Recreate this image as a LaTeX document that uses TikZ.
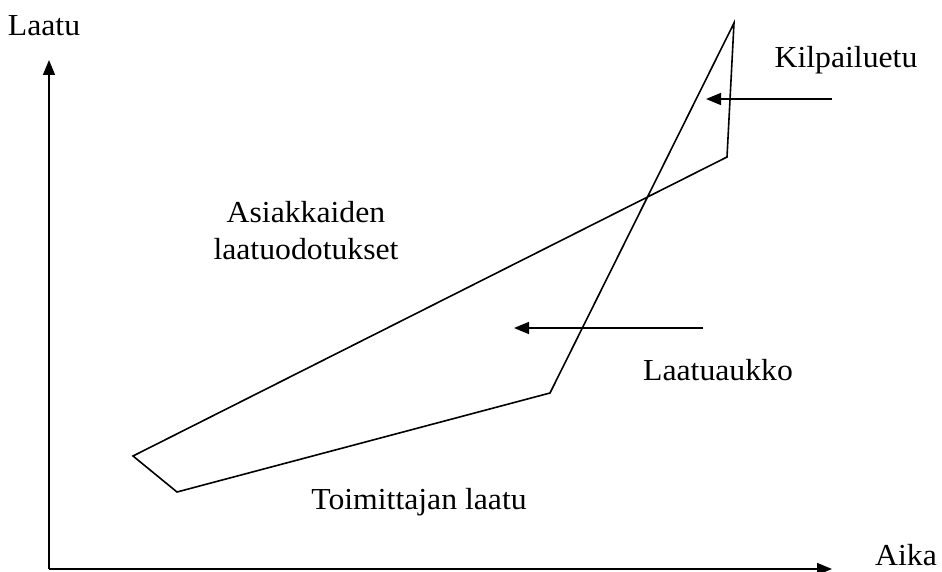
\documentclass[tikz,border=0pt]{standalone}
\usepackage{fontspec}
\setmainfont{Liberation Serif}[FakeStretch=1.04]
\usetikzlibrary{arrows.meta}
\begin{document}
\begin{tikzpicture}[x=1pt,y=-1pt,
  lbl/.style={font=\fontsize{30.5}{37}\selectfont, inner sep=0pt, align=center},
  edge/.style={line width=1.6pt, line join=miter},
  pointer/.style={line width=1.6pt, -{Triangle[length=15pt,width=12pt]}}]
\useasboundingbox (0,0) rectangle (942,572);
% axes
\coordinate (O) at (49,569);
\coordinate (Ytip) at (49,60);
\coordinate (Xtip) at (832,569);
\draw[pointer] (O) -- (Ytip);
\draw[pointer] (O) -- (Xtip);
\node[lbl] (laatu) at (44,26) {Laatu};
\node[lbl] (aika) at (906,555) {Aika};
% polygon
\coordinate (A) at (734,23);
\coordinate (B) at (727,157);
\coordinate (C) at (133,456);
\coordinate (D) at (177,492);
\coordinate (E) at (550,393);
\draw[edge] (A) -- (B) -- (C) -- (D) -- (E) -- cycle;
% labels
\node[lbl] (asiak) at (306,231) {Asiakkaiden\\laatuodotukset};
\node[lbl] (kilp) at (846,60) {Kilpailuetu};
\node[lbl] (aukko) at (718,370) {Laatuaukko};
\node[lbl] (toim) at (419,502) {Toimittajan laatu};
% pointers
\coordinate (k1) at (832,99);
\coordinate (k2) at (706,99);
\coordinate (l1) at (703,328);
\coordinate (l2) at (514,328);
\draw[pointer] (k1) -- (k2);
\draw[pointer] (l1) -- (l2);
\end{tikzpicture}
\end{document}
